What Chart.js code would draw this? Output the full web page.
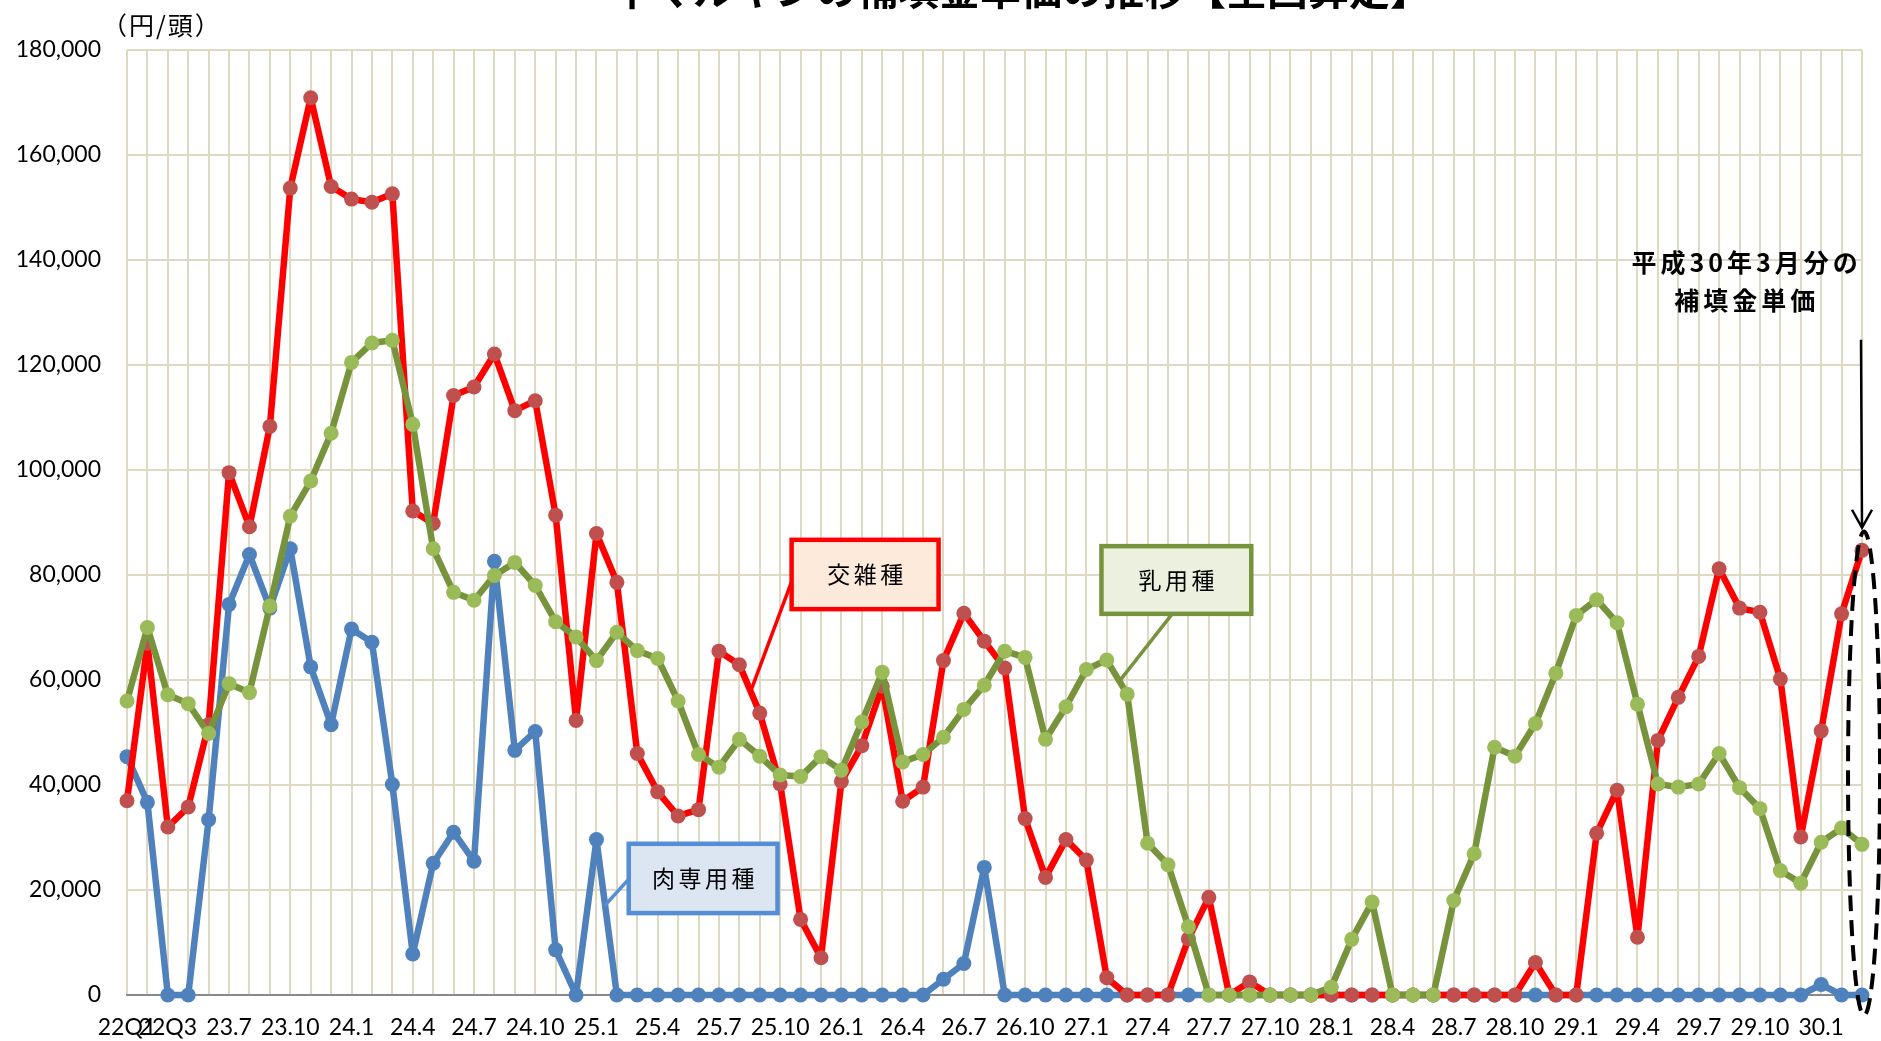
<!DOCTYPE html>
<html lang="ja">
<head>
<meta charset="utf-8">
<title>牛マルキンの補填金単価の推移【全国算定】</title>
<script src="https://cdn.jsdelivr.net/npm/chart.js@4.4.1/dist/chart.umd.min.js"></script>
<style>
  html, body { margin: 0; padding: 0; background: #fff; overflow: hidden; }
  #wrap { width: 1881px; height: 1041px; position: relative; }
</style>
</head>
<body>
<div id="wrap"><canvas id="myChart"></canvas></div>
<script>
// categories (fiscal quarters, then months)
const months = [
  "22Q1", "22Q2", "22Q3", "22Q4", "23Q1",
  "23.7", "23.8", "23.9", "23.10", "23.11", "23.12",
  "24.1", "24.2", "24.3", "24.4", "24.5", "24.6", "24.7", "24.8", "24.9", "24.10", "24.11", "24.12",
  "25.1", "25.2", "25.3", "25.4", "25.5", "25.6", "25.7", "25.8", "25.9", "25.10", "25.11", "25.12",
  "26.1", "26.2", "26.3", "26.4", "26.5", "26.6", "26.7", "26.8", "26.9", "26.10", "26.11", "26.12",
  "27.1", "27.2", "27.3", "27.4", "27.5", "27.6", "27.7", "27.8", "27.9", "27.10", "27.11", "27.12",
  "28.1", "28.2", "28.3", "28.4", "28.5", "28.6", "28.7", "28.8", "28.9", "28.10", "28.11", "28.12",
  "29.1", "29.2", "29.3", "29.4", "29.5", "29.6", "29.7", "29.8", "29.9", "29.10", "29.11", "29.12",
  "30.1", "30.2", "30.3"
];

const shownTicks = [
  "22Q1", "22Q3", "23.7", "23.10", "24.1", "24.4", "24.7", "24.10", "25.1", "25.4", "25.7", "25.10",
  "26.1", "26.4", "26.7", "26.10", "27.1", "27.4", "27.7", "27.10", "28.1", "28.4", "28.7", "28.10",
  "29.1", "29.4", "29.7", "29.10", "30.1"
];

// 交雑種
const crossbred = [
  37000, 67000, 32000, 35800, 51500,
  99500, 89200, 108300, 153700, 170900, 154000,
  151600, 151000, 152600, 92200, 89800, 114200, 115800, 122100, 111300, 113200, 91400, 52300,
  87900, 78600, 46000, 38700, 34100, 35300, 65500, 62900, 53700, 40200, 14400, 7100,
  40700, 47500, 58800, 36900, 39600, 63700, 72700, 67400, 62300, 33600, 22400, 29600,
  25700, 3300, 0, 0, 0, 10700, 18600, 0, 2500, 0, 0, 0,
  0, 0, 0, 0, 0, 0, 0, 0, 0, 0, 6200, 0,
  0, 30800, 39000, 11000, 48500, 56700, 64500, 81200, 73700, 72900, 60200, 30100,
  50300, 72600, 84700
];

// 乳用種
const dairy = [
  56000, 70000, 57200, 55500, 49800,
  59300, 57600, 74100, 91200, 97900, 107000,
  120500, 124200, 124700, 108700, 85000, 76700, 75200, 79900, 82400, 78000, 71100, 68200,
  63700, 69100, 65600, 64100, 56000, 45800, 43400, 48700, 45500, 41900, 41600, 45400,
  42800, 52000, 61500, 44400, 45800, 49100, 54400, 59000, 65500, 64300, 48700, 54900,
  62000, 63800, 57300, 28900, 24800, 13000, 0, 0, 0, 0, 0, 0,
  1500, 10600, 17700, 0, 0, 0, 18000, 26900, 47200, 45500, 51700, 61300,
  72300, 75300, 70900, 55400, 40200, 39600, 40200, 46000, 39500, 35500, 23700, 21300,
  29100, 31800, 28700
];

// 肉専用種
const beef = [
  45400, 36700, 0, 0, 33400,
  74400, 83900, 73700, 85000, 62500, 51500,
  69700, 67200, 40100, 7800, 25100, 31000, 25500, 82600, 46600, 50200, 8600, 0,
  29600, 0, 0, 0, 0, 0, 0, 0, 0, 0, 0, 0,
  0, 0, 0, 0, 0, 3000, 6000, 24300, 0, 0, 0, 0,
  0, 0, 0, 0, 0, 0, 0, 0, 0, 0, 0, 0,
  0, 0, 0, 0, 0, 0, 0, 0, 0, 0, 0, 0,
  0, 0, 0, 0, 0, 0, 0, 0, 0, 0, 0, 0,
  2000, 0, 0
];

const titleText = "牛マルキンの補填金単価の推移【全国算定】";
const unitText = "（円/頭）";
const noteLines = ["平成30年3月分の", "補填金単価"];

const jp = '"Noto Sans CJK JP", "Noto Sans CJK SC", sans-serif';

// label boxes, placed in (category index, value) units
const callouts = [
  { text: "交雑種", box: [32.56, 86700, 39.76, 73500], from: [32.66, 79800], to: [30.6, 58300], stroke: "#FF0000", fill: "#FDEADA" },
  { text: "乳用種", box: [47.74, 85500, 55.08, 72600], from: [51.17, 72400], to: [48.62, 59800], stroke: "#77933C", fill: "#EBF1DE" },
  { text: "肉専用種", box: [24.58, 28800, 31.87, 15600], from: [24.68, 22500], to: [23.4, 17000], stroke: "#558ED5", fill: "#DCE6F2" }
];

const overlay = {
  id: "overlay",
  afterDraw(chart) {
    const ctx = chart.ctx;
    const x = chart.scales.x;
    const y = chart.scales.y;
    const px = (i, v) => [x.getPixelForValue(i), y.getPixelForValue(v)];
    ctx.save();

    // title (top is cut off in the original)
    ctx.fillStyle = "#000";
    ctx.font = "bold 41px " + jp;
    ctx.textAlign = "center";
    ctx.textBaseline = "alphabetic";
    ctx.fillText(titleText, 1021, 5);

    // unit
    ctx.font = "25px " + jp;
    ctx.letterSpacing = "2px";
    ctx.textAlign = "left";
    ctx.textBaseline = "middle";
    ctx.fillText(unitText, 102, 25);
    ctx.letterSpacing = "0px";

    // callouts
    callouts.forEach(c => {
      const [fx, fy] = px(c.from[0], c.from[1]);
      const [tx, ty] = px(c.to[0], c.to[1]);
      ctx.strokeStyle = c.stroke;
      ctx.lineWidth = 3.5;
      ctx.beginPath();
      ctx.moveTo(fx, fy);
      ctx.lineTo(tx, ty);
      ctx.stroke();

      const [x1, y1] = px(c.box[0], c.box[1]);
      const [x2, y2] = px(c.box[2], c.box[3]);
      ctx.fillStyle = c.fill;
      ctx.fillRect(x1, y1, x2 - x1, y2 - y1);
      ctx.lineWidth = 4.5;
      ctx.strokeRect(x1, y1, x2 - x1, y2 - y1);

      ctx.fillStyle = "#000";
      ctx.font = "23px " + jp;
      ctx.letterSpacing = "3.5px";
      ctx.textAlign = "center";
      ctx.textBaseline = "middle";
      ctx.fillText(c.text, (x1 + x2) / 2 + 2, (y1 + y2) / 2);
      ctx.letterSpacing = "0px";
    });

    // note for the latest month
    ctx.fillStyle = "#000";
    ctx.font = "bold 25px " + jp;
    ctx.letterSpacing = "4px";
    ctx.textAlign = "center";
    ctx.textBaseline = "middle";
    const [nx, n1] = px(79.25, 139600);
    const n2 = y.getPixelForValue(132300);
    ctx.fillText(noteLines[0], nx + 2, n1);
    ctx.fillText(noteLines[1], nx + 2, n2);
    ctx.letterSpacing = "0px";

    // arrow
    const [ax, ay1] = px(85, 124800);
    const ay2 = y.getPixelForValue(89000);
    ctx.strokeStyle = "#000";
    ctx.lineWidth = 2.5;
    ctx.beginPath();
    ctx.moveTo(ax - 1, ay1);
    ctx.lineTo(ax, ay2);
    ctx.moveTo(ax - 10, ay2 - 18);
    ctx.lineTo(ax, ay2);
    ctx.lineTo(ax + 10, ay2 - 18);
    ctx.stroke();

    // dashed ellipse
    const [ex, ey] = px(85.1, 42200);
    ctx.lineWidth = 4;
    ctx.setLineDash([16, 9]);
    ctx.beginPath();
    ctx.ellipse(ex, ey, 16, 242, 0, 0, Math.PI * 2);
    ctx.stroke();
    ctx.setLineDash([]);

    ctx.restore();
  }
};

const ctx = document.getElementById("myChart").getContext("2d");

const line = (data, lineColor, dotColor) => ({
  data,
  borderColor: lineColor,
  borderWidth: 6.5,
  backgroundColor: dotColor,
  pointBackgroundColor: dotColor,
  pointBorderWidth: 0,
  pointRadius: 7.5,
  tension: 0,
  borderJoinStyle: "round",
  borderCapStyle: "round",
  clip: false
});

const myChart = new Chart(ctx, {
  type: "line",
  data: {
    labels: months,
    datasets: [
      Object.assign(line(dairy, "#77933C", "#9BBB59"), { label: "乳用種" }),
      Object.assign(line(crossbred, "#FF0000", "#C0504D"), { label: "交雑種" }),
      Object.assign(line(beef, "#4F81BD", "#4F81BD"), { label: "肉専用種" })
    ]
  },
  options: {
    responsive: true,
    maintainAspectRatio: false,
    animation: false,
    devicePixelRatio: 1,
    layout: { padding: { top: 50, right: 18, left: 0, bottom: 0 } },
    plugins: {
      legend: { display: false },
      tooltip: { enabled: false },
      title: { display: false }
    },
    scales: {
      x: {
        grid: { color: "#DDD9C3", lineWidth: 2, drawTicks: false },
        border: { color: "#898989", width: 2 },
        ticks: {
          autoSkip: false,
          maxRotation: 0,
          minRotation: 0,
          padding: 19,
          color: "#000",
          font: { family: "Lato", size: 23 },
          callback: (v, i) => shownTicks.includes(months[i]) ? months[i] : ""
        },
        afterFit: s => { s.height = 46; }
      },
      y: {
        min: 0,
        max: 180000,
        grid: { color: "#DDD9C3", lineWidth: 2, drawTicks: false },
        border: { display: false },
        ticks: {
          stepSize: 20000,
          padding: 26,
          color: "#000",
          font: { family: "Lato", size: 23 },
          callback: v => v.toLocaleString("en-US")
        },
        afterFit: s => { s.width = 127; }
      }
    }
  },
  plugins: [overlay]
});
</script>
</body>
</html>
